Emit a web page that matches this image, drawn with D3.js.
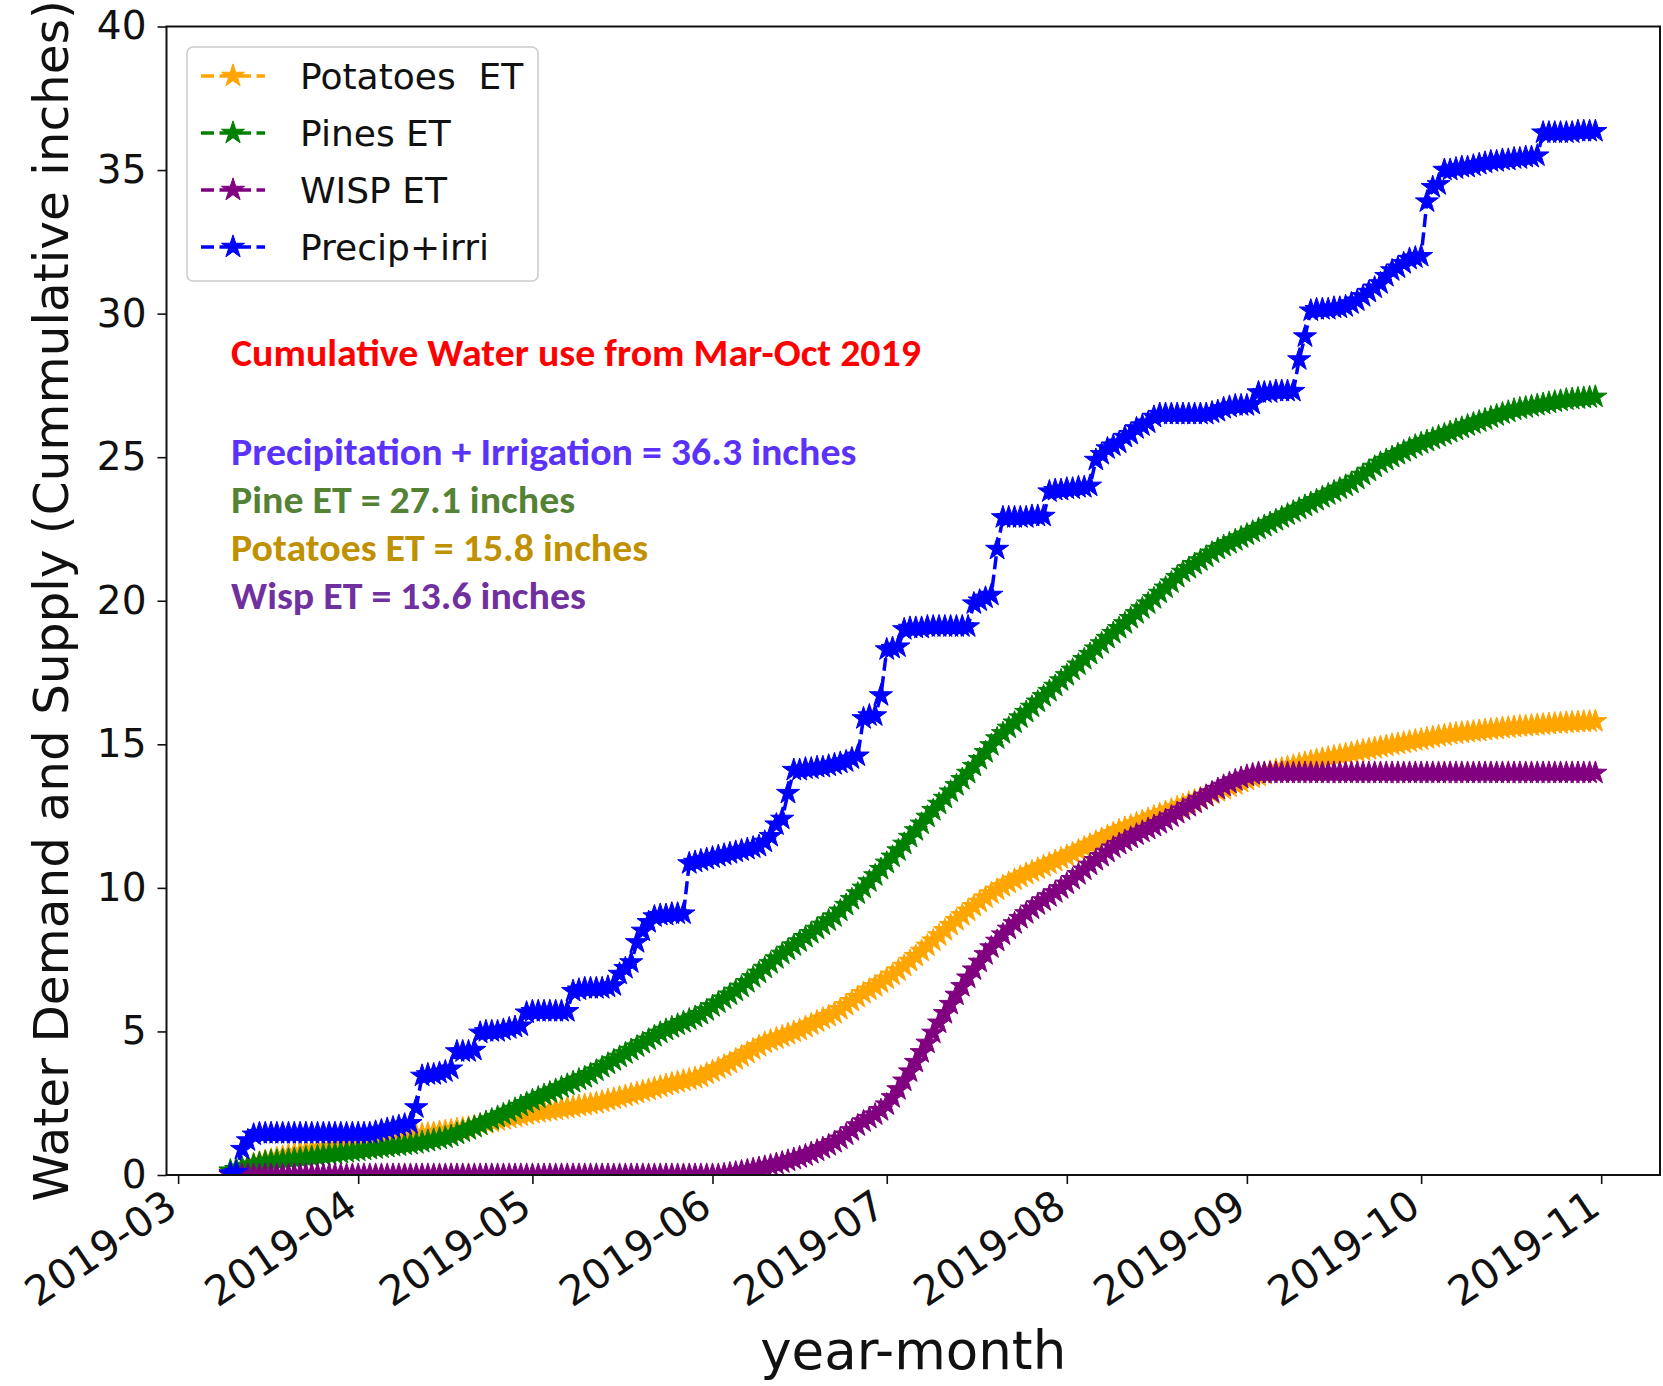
<!DOCTYPE html>
<html>
<head>
<meta charset="utf-8">
<script src="https://cdn.jsdelivr.net/npm/d3@7"></script>
<style>
  body { margin: 0; background: #fff; }
  svg { display: block; }
  text { font-family: 'DejaVu Sans', sans-serif; }
  .note text { font-family: Carlito, Lato, sans-serif; font-weight: bold; }
</style>
</head>
<body>
<svg width="1663" height="1386"></svg>
<script>
// daily values, first day is 2019-03-10, last is 2019-10-31
const firstDay = new Date(2019, 2, 10)

const potatoes = [
  0.1, 0.15, 0.22, 0.3, 0.37, 0.43, 0.48, 0.53, 0.58, 0.63,
  0.68, 0.73, 0.77, 0.81, 0.85, 0.88, 0.92, 0.95, 0.98, 1.0,
  1.03, 1.05, 1.07, 1.1, 1.13, 1.17, 1.2, 1.23, 1.27, 1.3,
  1.33, 1.35, 1.38, 1.41, 1.43, 1.46, 1.49, 1.52, 1.55, 1.59,
  1.62, 1.65, 1.7, 1.75, 1.8, 1.85, 1.9, 1.94, 1.98, 2.02,
  2.06, 2.1, 2.15, 2.18, 2.21, 2.24, 2.27, 2.3, 2.33, 2.36,
  2.4, 2.43, 2.47, 2.5, 2.55, 2.6, 2.65, 2.7, 2.75, 2.8,
  2.85, 2.91, 2.96, 3.02, 3.07, 3.13, 3.18, 3.23, 3.28, 3.32,
  3.37, 3.42, 3.52, 3.61, 3.71, 3.8, 3.9, 4.02, 4.13, 4.25,
  4.37, 4.48, 4.6, 4.68, 4.75, 4.82, 4.9, 4.98, 5.05, 5.15,
  5.24, 5.34, 5.44, 5.53, 5.63, 5.77, 5.91, 6.05, 6.19, 6.33,
  6.45, 6.57, 6.7, 6.83, 6.97, 7.12, 7.28, 7.45, 7.62, 7.8,
  7.98, 8.16, 8.34, 8.52, 8.7, 8.87, 9.04, 9.2, 9.36, 9.51,
  9.66, 9.8, 9.93, 10.05, 10.17, 10.28, 10.38, 10.48, 10.57, 10.66,
  10.75, 10.84, 10.93, 11.02, 11.11, 11.2, 11.3, 11.4, 11.5, 11.6,
  11.7, 11.8, 11.9, 12.0, 12.08, 12.16, 12.24, 12.32, 12.4, 12.48,
  12.56, 12.64, 12.72, 12.8, 12.88, 12.96, 13.04, 13.12, 13.2, 13.28,
  13.36, 13.44, 13.52, 13.6, 13.68, 13.76, 13.83, 13.9, 13.97, 14.04,
  14.1, 14.15, 14.2, 14.25, 14.3, 14.35, 14.4, 14.45, 14.49, 14.53,
  14.57, 14.61, 14.65, 14.69, 14.74, 14.78, 14.82, 14.86, 14.9, 14.94,
  14.98, 15.01, 15.05, 15.09, 15.13, 15.16, 15.2, 15.24, 15.28, 15.31,
  15.35, 15.37, 15.4, 15.42, 15.44, 15.46, 15.49, 15.51, 15.53, 15.56,
  15.58, 15.6, 15.62, 15.63, 15.65, 15.67, 15.68, 15.7, 15.72, 15.73,
  15.75, 15.76, 15.77, 15.78, 15.79, 15.8
]

const pines = [
  0.15, 0.2, 0.25, 0.3, 0.35, 0.4, 0.45, 0.47, 0.49, 0.51,
  0.53, 0.55, 0.57, 0.6, 0.62, 0.65, 0.68, 0.71, 0.73, 0.76,
  0.79, 0.82, 0.84, 0.87, 0.9, 0.92, 0.95, 0.97, 1.0, 1.02,
  1.05, 1.07, 1.1, 1.14, 1.18, 1.22, 1.26, 1.3, 1.35, 1.43,
  1.51, 1.59, 1.67, 1.75, 1.84, 1.93, 2.02, 2.11, 2.2, 2.3,
  2.4, 2.5, 2.6, 2.69, 2.78, 2.87, 2.96, 3.05, 3.14, 3.23,
  3.32, 3.4, 3.51, 3.63, 3.75, 3.87, 3.99, 4.11, 4.23, 4.35,
  4.47, 4.59, 4.71, 4.83, 4.95, 5.05, 5.14, 5.23, 5.32, 5.41,
  5.5, 5.6, 5.73, 5.87, 6.0, 6.14, 6.28, 6.41, 6.55, 6.71,
  6.88, 7.04, 7.21, 7.37, 7.54, 7.7, 7.84, 7.99, 8.13, 8.28,
  8.42, 8.57, 8.71, 8.86, 9.0, 9.2, 9.4, 9.6, 9.8, 10.0,
  10.22, 10.43, 10.65, 10.87, 11.08, 11.3, 11.53, 11.77, 12.0, 12.23,
  12.47, 12.7, 12.92, 13.13, 13.35, 13.57, 13.78, 14.0, 14.24, 14.48,
  14.72, 14.96, 15.2, 15.38, 15.57, 15.75, 15.93, 16.12, 16.3, 16.48,
  16.67, 16.85, 17.03, 17.22, 17.4, 17.59, 17.77, 17.96, 18.14, 18.33,
  18.51, 18.7, 18.87, 19.04, 19.21, 19.39, 19.56, 19.73, 19.9, 20.08,
  20.27, 20.45, 20.63, 20.82, 21.0, 21.13, 21.27, 21.4, 21.53, 21.67,
  21.8, 21.9, 22.0, 22.1, 22.2, 22.3, 22.4, 22.5, 22.6, 22.7,
  22.8, 22.9, 23.0, 23.1, 23.2, 23.3, 23.4, 23.5, 23.6, 23.7,
  23.8, 23.9, 24.0, 24.1, 24.24, 24.38, 24.52, 24.66, 24.8, 24.9,
  25.0, 25.1, 25.2, 25.3, 25.4, 25.48, 25.56, 25.64, 25.72, 25.79,
  25.87, 25.95, 26.02, 26.1, 26.17, 26.24, 26.31, 26.38, 26.45, 26.52,
  26.58, 26.65, 26.69, 26.73, 26.77, 26.81, 26.85, 26.89, 26.93, 26.96,
  27.0, 27.02, 27.04, 27.06, 27.08, 27.1
]

const wisp = [
  0, 0, 0, 0, 0, 0, 0, 0, 0, 0,
  0, 0, 0, 0, 0, 0, 0, 0, 0, 0,
  0, 0, 0, 0, 0, 0, 0, 0, 0, 0,
  0, 0, 0, 0, 0, 0, 0, 0, 0, 0,
  0, 0, 0, 0, 0, 0, 0, 0, 0, 0,
  0, 0, 0, 0, 0, 0, 0, 0, 0, 0,
  0, 0, 0, 0, 0, 0, 0, 0, 0, 0,
  0, 0, 0, 0, 0, 0, 0, 0, 0, 0,
  0, 0, 0, 0, 0, 0.02, 0.05, 0.08, 0.12, 0.16,
  0.2, 0.24, 0.28, 0.33, 0.38, 0.43, 0.49, 0.55, 0.61, 0.68,
  0.76, 0.84, 0.93, 1.03, 1.14, 1.26, 1.4, 1.55, 1.72, 1.86,
  1.98, 2.1, 2.25, 2.45, 2.7, 2.98, 3.28, 3.6, 3.93, 4.27,
  4.6, 4.95, 5.3, 5.63, 5.95, 6.27, 6.57, 6.87, 7.15, 7.42,
  7.68, 7.92, 8.15, 8.37, 8.57, 8.76, 8.94, 9.11, 9.27, 9.42,
  9.56, 9.7, 9.84, 9.98, 10.14, 10.3, 10.47, 10.63, 10.8, 10.96,
  11.1, 11.25, 11.4, 11.52, 11.63, 11.74, 11.85, 11.95, 12.05, 12.15,
  12.25, 12.36, 12.48, 12.6, 12.72, 12.84, 12.96, 13.08, 13.2, 13.32,
  13.44, 13.55, 13.65, 13.74, 13.82, 13.9, 13.95, 14.0, 14.0, 14.0,
  14.0, 14.0, 14.0, 14.0, 14.0, 14.0, 14.0, 14.0, 14.0, 14.0,
  14.0, 14.0, 14.0, 14.0, 14.0, 14.0, 14.0, 14.0, 14.0, 14.0,
  14.0, 14.0, 14.0, 14.0, 14.0, 14.0, 14.0, 14.0, 14.0, 14.0,
  14.0, 14.0, 14.0, 14.0, 14.0, 14.0, 14.0, 14.0, 14.0, 14.0,
  14.0, 14.0, 14.0, 14.0, 14.0, 14.0, 14.0, 14.0, 14.0, 14.0,
  14.0, 14.0, 14.0, 14.0, 14.0, 14.0
]

const precip = [
  0.05, 0.1, 0.9, 1.2, 1.4, 1.45, 1.45, 1.45, 1.45, 1.45,
  1.45, 1.45, 1.45, 1.45, 1.45, 1.45, 1.45, 1.45, 1.45, 1.45,
  1.45, 1.45, 1.45, 1.45, 1.45, 1.5, 1.55, 1.6, 1.65, 1.7,
  1.75, 1.8, 2.35, 3.45, 3.5, 3.5, 3.55, 3.6, 3.7, 4.3,
  4.3, 4.3, 4.35, 4.95, 5.0, 5.0, 5.0, 5.05, 5.1, 5.15,
  5.2, 5.65, 5.7, 5.7, 5.7, 5.7, 5.7, 5.7, 5.7, 6.4,
  6.45, 6.5, 6.5, 6.5, 6.5, 6.55, 6.6, 7.0, 7.2, 7.4,
  8.1, 8.5, 8.8, 9.0, 9.05, 9.05, 9.1, 9.1, 9.1, 10.85,
  10.9, 10.95, 11.0, 11.05, 11.1, 11.15, 11.2, 11.25, 11.3, 11.35,
  11.4, 11.45, 11.6, 11.8, 12.2, 12.4, 13.3, 14.1, 14.1, 14.15,
  14.15, 14.2, 14.2, 14.25, 14.3, 14.35, 14.4, 14.5, 14.6, 15.9,
  16.0, 16.0, 16.7, 18.3, 18.35, 18.4, 19.0, 19.05, 19.05, 19.05,
  19.1, 19.1, 19.1, 19.1, 19.1, 19.1, 19.1, 19.1, 19.9, 20.0,
  20.1, 20.2, 21.8, 22.9, 22.9, 22.9, 22.9, 22.9, 22.95, 22.95,
  22.95, 23.8, 23.85, 23.85, 23.9, 23.9, 23.95, 23.95, 24.0, 24.9,
  25.1, 25.3, 25.4, 25.5, 25.7, 25.8, 26.0, 26.1, 26.2, 26.4,
  26.5, 26.5, 26.5, 26.5, 26.5, 26.5, 26.5, 26.5, 26.5, 26.55,
  26.6, 26.7, 26.75, 26.8, 26.8, 26.8, 26.85, 27.25, 27.25, 27.25,
  27.3, 27.3, 27.3, 27.3, 28.4, 29.2, 30.1, 30.15, 30.15, 30.15,
  30.2, 30.2, 30.25, 30.35, 30.45, 30.6, 30.75, 30.9, 31.05, 31.3,
  31.5, 31.6, 31.75, 31.9, 31.95, 32.0, 33.9, 34.4, 34.5, 35.0,
  35.0, 35.05, 35.1, 35.1, 35.15, 35.2, 35.25, 35.3, 35.3, 35.35,
  35.35, 35.4, 35.4, 35.45, 35.45, 35.5, 36.3, 36.3, 36.3, 36.3,
  36.3, 36.3, 36.35, 36.35, 36.35, 36.35
]

const seriesNames = ['Potatoes  ET', 'Pines ET', 'WISP ET', 'Precip+irri']
const seriesColors = ['orange', 'green', 'purple', 'blue']
const seriesValues = [potatoes, pines, wisp, precip]

const monthTicks = ['2019-03', '2019-04', '2019-05', '2019-06', '2019-07', '2019-08', '2019-09', '2019-10', '2019-11']
const yTicks = [0, 5, 10, 15, 20, 25, 30, 35, 40]

const noteTitle = 'Cumulative Water use from Mar-Oct 2019'
const noteLines = [
  'Precipitation + Irrigation = 36.3 inches',
  'Pine ET = 27.1 inches',
  'Potatoes ET = 15.8 inches',
  'Wisp ET = 13.6 inches'
]
const noteColors = ['#5a32fa', '#548235', '#bf9000', '#7030a0']

const svg = d3.select('svg')

const plotLeft = 166.5, plotRight = 1660, plotTop = 26.5, plotBottom = 1175

const x = d3.scaleTime()
    .domain([new Date(2019, 1, 27), new Date(2019, 10, 11, 3)])
    .range([plotLeft, plotRight])

const y = d3.scaleLinear()
    .domain([0, 40])
    .range([plotBottom, plotTop])

const parseMonth = d3.timeParse('%Y-%m')

svg.append('clipPath').attr('id', 'plot-clip')
  .append('rect')
    .attr('x', plotLeft).attr('y', plotTop)
    .attr('width', plotRight - plotLeft).attr('height', plotBottom - plotTop)

// y axis
const yAxis = svg.append('g')
    .attr('transform', `translate(${plotLeft},0)`)
    .call(d3.axisLeft(y).tickValues(yTicks).tickSize(9).tickPadding(11))
yAxis.select('.domain').remove()
yAxis.selectAll('line').attr('stroke', '#111').attr('stroke-width', 1.6)
yAxis.selectAll('text').attr('font-size', 39).style('fill', '#111')

// x axis, labels turned like autofmt_xdate
const xAxis = svg.append('g')
    .attr('transform', `translate(0,${plotBottom})`)
    .call(d3.axisBottom(x)
      .tickValues(monthTicks.map(parseMonth))
      .tickFormat(d3.timeFormat('%Y-%m'))
      .tickSize(9))
xAxis.select('.domain').remove()
xAxis.selectAll('line').attr('stroke', '#111').attr('stroke-width', 1.6)
xAxis.selectAll('text')
    .attr('font-size', 41)
    .style('fill', '#111')
    .attr('text-anchor', 'end')
    .attr('x', 0).attr('y', 0)
    .attr('dy', '0.74em')
    .attr('transform', 'translate(-16,12) rotate(-34)')

// series: dashed line plus a star at every day
const starPath = d3.symbol(d3.symbolStar, 165)()

const plot = svg.append('g').attr('clip-path', 'url(#plot-clip)')

seriesValues.forEach((values, k) => {
  const points = values.map((v, i) => [d3.timeDay.offset(firstDay, i), v])
  const g = plot.append('g')
  g.append('path')
      .attr('d', d3.line().x(d => x(d[0])).y(d => y(d[1]))(points))
      .attr('fill', 'none')
      .attr('stroke', seriesColors[k])
      .attr('stroke-width', 3.5)
      .attr('stroke-dasharray', '13 5.5')
  g.selectAll('path.star')
    .data(points)
    .enter()
    .append('path')
      .attr('class', 'star')
      .attr('d', starPath)
      .attr('transform', d => `translate(${x(d[0])},${y(d[1])})`)
      .attr('fill', seriesColors[k])
      .attr('stroke', seriesColors[k])
      .attr('stroke-width', 1)
})

// frame
svg.append('rect')
    .attr('x', plotLeft).attr('y', plotTop)
    .attr('width', plotRight - plotLeft).attr('height', plotBottom - plotTop)
    .attr('fill', 'none')
    .attr('stroke', '#111')
    .attr('stroke-width', 2)

// axis titles
svg.append('text')
    .attr('x', (plotLeft + plotRight) / 2).attr('y', 1369)
    .attr('text-anchor', 'middle')
    .attr('font-size', 53)
    .style('fill', '#111')
    .text('year-month')

svg.append('text')
    .attr('transform', `translate(68,${(plotTop + plotBottom) / 2}) rotate(-90)`)
    .attr('text-anchor', 'middle')
    .attr('font-size', 48.5)
    .style('fill', '#111')
    .text('Water Demand and Supply (Cummulative inches)')

// legend
const legend = svg.append('g')
legend.append('rect')
    .attr('x', 187).attr('y', 47)
    .attr('width', 351).attr('height', 234)
    .attr('rx', 6)
    .attr('fill', '#fff').attr('fill-opacity', 0.8)
    .attr('stroke', '#ccc').attr('stroke-width', 1.5)

const rows = legend.selectAll('g.row')
    .data(seriesNames)
    .enter()
    .append('g')
      .attr('class', 'row')
      .attr('transform', (d, i) => `translate(0,${76 + i * 57})`)
rows.append('line')
    .attr('x1', 201).attr('x2', 265)
    .attr('stroke', (d, i) => seriesColors[i])
    .attr('stroke-width', 3.5)
    .attr('stroke-dasharray', '13 5.5')
rows.append('path')
    .attr('d', starPath)
    .attr('transform', 'translate(233,0)')
    .attr('fill', (d, i) => seriesColors[i])
    .attr('stroke', (d, i) => seriesColors[i])
rows.append('text')
    .attr('x', 300)
    .attr('dy', '0.36em')
    .attr('font-size', 36)
    .style('fill', '#111')
    .style('white-space', 'pre')
    .text(d => d)

// notes in the plot, squeezed to the width of the original bold text
const note = svg.append('g').attr('class', 'note')
const title = note.append('text')
    .attr('x', 231).attr('y', 366)
    .attr('font-size', 38)
    .style('fill', '#ff0000')
    .text(noteTitle)
const squeeze = 690 / title.node().getComputedTextLength()

note.selectAll('text.line')
    .data(noteLines)
    .enter()
    .append('text')
      .attr('class', 'line')
      .attr('x', 231)
      .attr('y', (d, i) => 465 + i * 48)
      .attr('font-size', 38)
      .style('fill', (d, i) => noteColors[i])
      .text(d => d)

note.selectAll('text').each(function () {
  const t = d3.select(this)
  t.attr('textLength', this.getComputedTextLength() * squeeze)
   .attr('lengthAdjust', 'spacingAndGlyphs')
})
</script>
</body>
</html>
